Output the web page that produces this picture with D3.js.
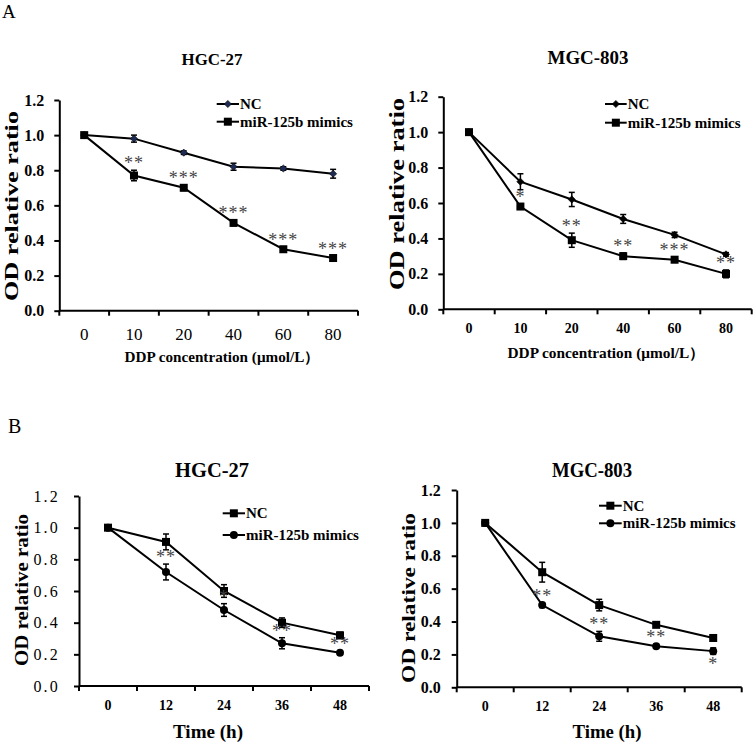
<!DOCTYPE html>
<html><head><meta charset="utf-8">
<script src="https://cdn.jsdelivr.net/npm/d3@7"></script>
<style>body{margin:0;background:#fff}svg{display:block}</style>
</head><body><svg id="c" width="753" height="744"></svg>
<script>
// ---------- data ----------
const ddpCategories = ["0", "10", "20", "40", "60", "80"];
const timeCategories = ["0", "12", "24", "36", "48"];
const yTickValues = [0, 0.2, 0.4, 0.6, 0.8, 1.0, 1.2];
const seriesNames = ["NC", "miR-125b mimics"];
const panelTitles = ["HGC-27", "MGC-803", "HGC-27", "MGC-803"];
const xAxisTitles = ["DDP concentration (μmol/L）", "Time (h)"];
const yAxisTitle = "OD relative ratio";
const panelLetters = ["A", "B"];

const hgcDdpNC = [1.0, 0.98, 0.90, 0.82, 0.81, 0.78];
const hgcDdpNCErr = [0, 0.02, 0.01, 0.02, 0.01, 0.025];
const hgcDdpMiR = [1.0, 0.77, 0.70, 0.50, 0.35, 0.30];
const hgcDdpMiRErr = [0, 0.03, 0.015, 0.015, 0.012, 0.012];
const hgcDdpSig = ["", "**", "***", "***", "***", "***"];

const mgcDdpNC = [1.0, 0.72, 0.62, 0.51, 0.42, 0.31];
const mgcDdpNCErr = [0, 0.045, 0.04, 0.025, 0.015, 0.01];
const mgcDdpMiR = [1.0, 0.58, 0.39, 0.30, 0.28, 0.20];
const mgcDdpMiRErr = [0, 0.015, 0.04, 0.018, 0.015, 0.022];
const mgcDdpSig = ["", "*", "**", "**", "***", "**"];

const hgcTimeNC = [1.0, 0.91, 0.60, 0.40, 0.32];
const hgcTimeNCErr = [0, 0.05, 0.04, 0.03, 0.02];
const hgcTimeMiR = [1.0, 0.72, 0.48, 0.27, 0.21];
const hgcTimeMiRErr = [0, 0.05, 0.04, 0.035, 0.012];
const hgcTimeSig = ["", "**", "*", "**", "**"];

const mgcTimeNC = [1.0, 0.70, 0.50, 0.38, 0.30];
const mgcTimeNCErr = [0, 0.06, 0.035, 0.015, 0.012];
const mgcTimeMiR = [1.0, 0.50, 0.31, 0.25, 0.22];
const mgcTimeMiRErr = [0, 0.015, 0.03, 0.012, 0.02];
const mgcTimeSig = ["", "**", "**", "**", "*"];
const mgcTimeSigBelow = [false, false, false, false, true];

// ---------- layout ----------
const SERIF = "'Liberation Serif','Times New Roman',serif";
const svg = d3.select("#c");

const panels = [
  { cats: ddpCategories, nc: hgcDdpNC, ncE: hgcDdpNCErr, mi: hgcDdpMiR, miE: hgcDdpMiRErr, sig: hgcDdpSig,
    x0: 59.3, x1: 358, yB: 310.7, yT: 100, title: panelTitles[0], tx: 212, ty: 65, tSize: 17, tLen: 61,
    xt: xAxisTitles[0], xtx: 222, xty: 362, xtLen: 195, xlabY: 340, xlabBold: false, xlabSize: 17,
    ylabBold: true, ylabSize: 16, ylabGap: 15, ylabSpacing: 0,
    ytX: 18, ytY: 206, ytSize: 19, ytLen: 190, xtSize: 15,
    ncMarker: "diamond", ncFill: "#1d2b55", miMarker: "square",
    leg: { x0: 216.7, x1: 239, y0: 104, y1: 121.7 } },
  { cats: ddpCategories, nc: mgcDdpNC, ncE: mgcDdpNCErr, mi: mgcDdpMiR, miE: mgcDdpMiRErr, sig: mgcDdpSig,
    x0: 443.3, x1: 751.7, yB: 309.3, yT: 96.7, title: panelTitles[1], tx: 588, ty: 64, tSize: 18, tLen: 81,
    xt: xAxisTitles[0], xtx: 606, xty: 358, xtLen: 197, xlabY: 333, xlabBold: true, xlabSize: 14,
    ylabBold: true, ylabSize: 16, ylabGap: 15, ylabSpacing: 0,
    ytX: 404, ytY: 194, ytSize: 20, ytLen: 192, xtSize: 15,
    ncMarker: "diamond", ncFill: "#000", miMarker: "square",
    leg: { x0: 605, x1: 626.7, y0: 104, y1: 122.7 } },
  { cats: timeCategories, nc: hgcTimeNC, ncE: hgcTimeNCErr, mi: hgcTimeMiR, miE: hgcTimeMiRErr, sig: hgcTimeSig,
    x0: 79, x1: 369, yB: 686, yT: 496, title: panelTitles[2], tx: 212, ty: 477, tSize: 20, tLen: 74,
    xt: xAxisTitles[1], xtx: 208, xty: 738, xtLen: 70, xlabY: 710, xlabBold: true, xlabSize: 14,
    ylabBold: false, ylabSize: 16, ylabGap: 19, ylabSpacing: 2.2,
    ytX: 28, ytY: 590, ytSize: 18, ytLen: 152, xtSize: 19,
    ncMarker: "square", ncFill: "#000", miMarker: "circle",
    leg: { x0: 222.7, x1: 245, y0: 513.3, y1: 535 } },
  { cats: timeCategories, nc: mgcTimeNC, ncE: mgcTimeNCErr, mi: mgcTimeMiR, miE: mgcTimeMiRErr, sig: mgcTimeSig,
    sigBelow: mgcTimeSigBelow,
    x0: 456.7, x1: 741.7, yB: 687.3, yT: 490, title: panelTitles[3], tx: 592, ty: 477, tSize: 20, tLen: 80,
    xt: xAxisTitles[1], xtx: 607, xty: 738, xtLen: 69, xlabY: 711, xlabBold: true, xlabSize: 14,
    ylabBold: true, ylabSize: 16, ylabGap: 16, ylabSpacing: 0,
    ytX: 415, ytY: 598, ytSize: 19, ytLen: 170, xtSize: 19,
    ncMarker: "square", ncFill: "#000", miMarker: "circle",
    leg: { x0: 599, x1: 621.7, y0: 505.7, y1: 523.3 } }
];

function marker(g, type, cx, cy, fill) {
  if (type === "square") {
    g.append("rect").attr("x", cx - 4).attr("y", cy - 4).attr("width", 8).attr("height", 8).attr("fill", fill);
  } else if (type === "diamond") {
    g.append("path").attr("d", `M${cx},${cy - 3.6}L${cx + 3.6},${cy}L${cx},${cy + 3.6}L${cx - 3.6},${cy}Z`)
      .attr("fill", fill).attr("stroke", "#000").attr("stroke-width", 0.6);
  } else {
    g.append("circle").attr("cx", cx).attr("cy", cy).attr("r", 4).attr("fill", fill);
  }
}

panels.forEach(p => {
  const g = svg.append("g");
  const x = d3.scaleBand().domain(p.cats).range([p.x0, p.x1]).paddingInner(0).paddingOuter(0);
  const y = d3.scaleLinear().domain([0, 1.2]).range([p.yB, p.yT]);
  const cx = c => x(c) + x.bandwidth() / 2;

  // y axis
  const yAx = g.append("g").attr("transform", `translate(${p.x0},0)`)
    .call(d3.axisLeft(y).tickValues(yTickValues).tickFormat(d3.format(".1f")).tickSize(5).tickSizeOuter(0).tickPadding(p.ylabGap - 5));
  yAx.select(".domain").attr("stroke-width", 2);
  yAx.selectAll(".tick line").attr("stroke-width", 2);
  yAx.selectAll(".tick text").attr("font-family", SERIF).attr("font-size", p.ylabSize)
    .attr("font-weight", p.ylabBold ? "bold" : "normal").attr("letter-spacing", p.ylabSpacing).attr("fill", "#000");

  // x axis: ticks at band boundaries
  const bounds = p.cats.map(c => x(c)).concat([p.x1]);
  const xAx = g.append("g").attr("transform", `translate(0,${p.yB})`);
  xAx.append("line").attr("x1", p.x0).attr("x2", p.x1).attr("stroke", "#000").attr("stroke-width", 2);
  xAx.selectAll("line.tk").data(bounds).enter().append("line").attr("class", "tk")
    .attr("x1", d => d).attr("x2", d => d).attr("y1", 0).attr("y2", 5).attr("stroke", "#000").attr("stroke-width", 2);
  g.selectAll("text.xl").data(p.cats).enter().append("text").attr("class", "xl")
    .attr("x", d => cx(d)).attr("y", p.xlabY).attr("text-anchor", "middle")
    .attr("font-family", SERIF).attr("font-size", p.xlabSize).attr("font-weight", p.xlabBold ? "bold" : "normal").text(d => d);

  // titles
  g.append("text").attr("x", p.tx).attr("y", p.ty).attr("text-anchor", "middle").attr("font-family", SERIF)
    .attr("font-size", p.tSize).attr("font-weight", "bold")
    .attr("textLength", p.tLen).attr("lengthAdjust", "spacingAndGlyphs").text(p.title);
  g.append("text").attr("x", p.xtx).attr("y", p.xty).attr("text-anchor", "middle").attr("font-family", SERIF)
    .attr("font-size", p.xtSize).attr("font-weight", "bold")
    .attr("textLength", p.xtLen).attr("lengthAdjust", "spacingAndGlyphs").text(p.xt);
  g.append("text").attr("transform", `translate(${p.ytX},${p.ytY}) rotate(-90)`).attr("text-anchor", "middle")
    .attr("font-family", SERIF).attr("font-size", p.ytSize).attr("font-weight", "bold")
    .attr("textLength", p.ytLen).attr("lengthAdjust", "spacingAndGlyphs").text(yAxisTitle);

  // series
  const line = d3.line().x((d, i) => cx(p.cats[i])).y(d => y(d));
  [[p.nc, p.ncE, p.ncMarker, p.ncFill], [p.mi, p.miE, p.miMarker, "#000"]].forEach(([vals, errs, mk, fill]) => {
    g.append("path").attr("d", line(vals)).attr("fill", "none").attr("stroke", "#000").attr("stroke-width", 2);
    vals.forEach((v, i) => {
      const xx = cx(p.cats[i]);
      if (errs[i] > 0) {
        const yt = y(v + errs[i]), yb = y(v - errs[i]);
        g.append("line").attr("x1", xx).attr("x2", xx).attr("y1", yt).attr("y2", yb).attr("stroke", "#000").attr("stroke-width", 1.5);
        [yt, yb].forEach(yy => g.append("line").attr("x1", xx - 3).attr("x2", xx + 3).attr("y1", yy).attr("y2", yy)
          .attr("stroke", "#000").attr("stroke-width", 1.5));
      }
      marker(g, mk, xx, y(v), fill);
    });
  });

  // significance stars
  p.sig.forEach((s, i) => {
    if (!s) return;
    const below = p.sigBelow && p.sigBelow[i];
    const yy = below ? y(p.mi[i] - p.miE[i]) + 16 : y(p.mi[i] + p.miE[i]) - 1;
    g.append("text").attr("x", cx(p.cats[i])).attr("y", yy).attr("text-anchor", "middle")
      .attr("font-family", SERIF).attr("font-size", 18).attr("letter-spacing", 1).attr("fill", "#444").text(s);
  });

  // legend
  const L = p.leg;
  [[L.y0, p.ncMarker, p.ncFill, seriesNames[0]], [L.y1, p.miMarker, "#000", seriesNames[1]]].forEach(([ly, mk, fill, name]) => {
    g.append("line").attr("x1", L.x0).attr("x2", L.x1).attr("y1", ly).attr("y2", ly).attr("stroke", "#000").attr("stroke-width", 2);
    marker(g, mk, (L.x0 + L.x1) / 2, ly, fill);
    g.append("text").attr("x", L.x1 + 1).attr("y", ly + 5).attr("font-family", SERIF).attr("font-size", 15)
      .attr("font-weight", "bold").text(name);
  });
});

svg.append("text").attr("x", 2).attr("y", 18).attr("font-family", SERIF).attr("font-size", 19).text(panelLetters[0]);
svg.append("text").attr("x", 8).attr("y", 433).attr("font-family", SERIF).attr("font-size", 20).text(panelLetters[1]);
</script></body></html>
